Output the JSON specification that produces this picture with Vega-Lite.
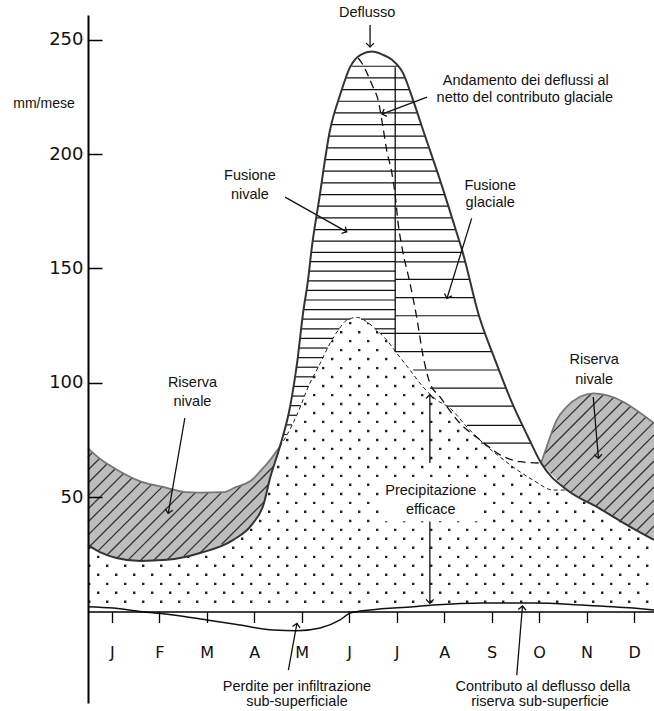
{
"$schema":"https://vega.github.io/schema/vega-lite/v6.json",
"width":566,"height":688,
"autosize":{"type":"none"},
"padding":{"left":88,"top":15,"right":0,"bottom":8},
"background":"white",
"config":{"view":{"stroke":null},"text":{"font":"Liberation Sans","fontSize":14.5,"color":"#111"}},
"datasets":{
"dots":[{"v":4.3,"odd":0},{"v":8.2,"odd":1},{"v":12.1,"odd":0},{"v":16.1,"odd":1},{"v":20.0,"odd":0},{"v":23.9,"odd":1},{"v":27.9,"odd":0},{"v":31.8,"odd":1},{"v":35.7,"odd":0},{"v":39.6,"odd":1},{"v":43.6,"odd":0},{"v":47.5,"odd":1},{"v":51.4,"odd":0},{"v":55.4,"odd":1},{"v":59.3,"odd":0},{"v":63.2,"odd":1},{"v":67.1,"odd":0},{"v":71.1,"odd":1},{"v":75.0,"odd":0},{"v":78.9,"odd":1},{"v":82.9,"odd":0},{"v":86.8,"odd":1},{"v":90.7,"odd":0},{"v":94.6,"odd":1},{"v":98.6,"odd":0},{"v":102.5,"odd":1},{"v":106.4,"odd":0},{"v":110.4,"odd":1},{"v":114.3,"odd":0},{"v":118.2,"odd":1},{"v":122.1,"odd":0},{"v":126.1,"odd":1}],
"pdot":[{"x":0,"v":29},{"x":0.25,"v":26},{"x":0.6,"v":23.4},{"x":1.1,"v":22.1},{"x":1.66,"v":22.6},{"x":2.36,"v":25.6},{"x":3.06,"v":31.3},{"x":3.45,"v":38},{"x":3.7,"v":47},{"x":3.83,"v":58},{"x":4.04,"v":72},{"x":4.32,"v":82.4},{"x":4.47,"v":89.4},{"x":4.61,"v":96.9},{"x":4.89,"v":108.5},{"x":5.1,"v":117.4},{"x":5.27,"v":123},{"x":5.45,"v":127.4},{"x":5.66,"v":128.6},{"x":5.87,"v":126.7},{"x":6.08,"v":123},{"x":6.29,"v":118.7},{"x":6.5,"v":113},{"x":6.78,"v":105.6},{"x":7.06,"v":98.1},{"x":7.34,"v":92.5},{"x":7.62,"v":89},{"x":7.98,"v":80.7},{"x":8.32,"v":73.7},{"x":8.68,"v":67.5},{"x":9.04,"v":61.9},{"x":9.37,"v":57.5},{"x":9.8,"v":53.1},{"x":10.09,"v":53.1},{"x":10.72,"v":45.7},{"x":11.42,"v":37},{"x":11.92,"v":31.3}],
"D":[{"x":0,"v":29},{"x":0.25,"v":26},{"x":0.6,"v":23.4},{"x":1.1,"v":22.1},{"x":1.66,"v":22.6},{"x":2.36,"v":25.6},{"x":3.06,"v":31.3},{"x":3.45,"v":38},{"x":3.7,"v":47},{"x":3.83,"v":58},{"x":4.04,"v":72},{"x":4.255,"v":89.4},{"x":4.403,"v":108.6},{"x":4.529,"v":130.5},{"x":4.634,"v":144.9},{"x":4.712,"v":158.9},{"x":4.866,"v":179.9},{"x":5.097,"v":210.5},{"x":5.308,"v":225.8},{"x":5.519,"v":238},{"x":5.75,"v":243.5},{"x":5.98,"v":244.8},{"x":6.2,"v":243.5},{"x":6.397,"v":241.3},{"x":6.635,"v":235.4},{"x":6.846,"v":223.6},{"x":7.056,"v":210.5},{"x":7.414,"v":188.6},{"x":7.766,"v":165.5},{"x":7.878,"v":158},{"x":8.236,"v":129.2},{"x":8.573,"v":110},{"x":8.931,"v":91.2},{"x":9.268,"v":76.3},{"x":9.542,"v":64.9},{"x":10.09,"v":53.1},{"x":10.72,"v":45.7},{"x":11.42,"v":37},{"x":11.92,"v":31.3}],
"Pmid":[{"x":4.04,"v":72},{"x":4.32,"v":82.4},{"x":4.47,"v":89.4},{"x":4.61,"v":96.9},{"x":4.89,"v":108.5},{"x":5.1,"v":117.4},{"x":5.27,"v":123},{"x":5.45,"v":127.4},{"x":5.66,"v":128.6},{"x":5.87,"v":126.7},{"x":6.08,"v":123},{"x":6.29,"v":118.7},{"x":6.5,"v":113},{"x":6.78,"v":105.6},{"x":7.06,"v":98.1},{"x":7.34,"v":92.5},{"x":7.62,"v":89},{"x":7.98,"v":80.7},{"x":8.32,"v":73.7},{"x":8.68,"v":67.5},{"x":9.04,"v":61.9},{"x":9.37,"v":57.5},{"x":9.8,"v":53.1},{"x":10.09,"v":53.1}],
"hatchL":[{"x":0,"lo":29,"hi":71.3},{"x":0.25,"lo":26,"hi":66.8},{"x":0.6,"lo":23.4,"hi":62.1},{"x":1.1,"lo":22.1,"hi":56.9},{"x":1.66,"lo":22.6,"hi":54.1},{"x":2.04,"lo":24.2,"hi":52.2},{"x":2.36,"lo":25.6,"hi":52.0},{"x":2.88,"lo":29.8,"hi":52.2},{"x":3.06,"lo":31.3,"hi":53.9},{"x":3.45,"lo":38,"hi":57.5},{"x":3.7,"lo":47,"hi":63},{"x":3.83,"lo":58,"hi":66.1},{"x":3.95,"lo":66,"hi":69.5},{"x":4.04,"lo":72,"hi":72}],
"hatchR":[{"x":9.54,"lo":64.9,"hi":64.9},{"x":9.66,"lo":62.3,"hi":72},{"x":9.87,"lo":57.8,"hi":83.7},{"x":10.08,"lo":53.3,"hi":89.5},{"x":10.36,"lo":49.9,"hi":93.9},{"x":10.64,"lo":46.6,"hi":95.4},{"x":10.92,"lo":43.2,"hi":94.6},{"x":11.27,"lo":38.9,"hi":91.7},{"x":11.63,"lo":34.6,"hi":86.8},{"x":11.92,"lo":31.3,"hi":82.4}],
"diag":[{"a":0,"p":67.5,"b":0.097,"q":69.6},{"a":0,"p":61.9,"b":0.244,"q":66.9},{"a":0,"p":56.2,"b":0.409,"q":64.7},{"a":0,"p":50.5,"b":0.575,"q":62.4},{"a":0,"p":44.8,"b":0.756,"q":60.5},{"a":0,"p":39.1,"b":0.937,"q":58.6},{"a":0,"p":33.4,"b":1.125,"q":56.8},{"a":0.038,"p":28.5,"b":1.346,"q":55.7},{"a":0.213,"p":26.5,"b":1.567,"q":54.6},{"a":0.406,"p":24.8,"b":1.787,"q":53.5},{"a":0.609,"p":23.3,"b":2.007,"q":52.4},{"a":0.853,"p":22.7,"b":2.267,"q":52.1},{"a":1.095,"p":22.1,"b":2.54,"q":52.1},{"a":1.382,"p":22.3,"b":2.82,"q":52.2},{"a":1.668,"p":22.6,"b":3.269,"q":55.8},{"a":2.016,"p":24.1,"b":3.911,"q":63.5},{"a":2.361,"p":25.6,"b":3.8,"q":55.5},{"a":2.812,"p":29.3,"b":3.711,"q":48.0},
{"a":9.764,"p":77.9,"b":10.599,"q":95.2},{"a":9.609,"p":68.9,"b":10.853,"q":94.8},{"a":9.613,"p":63.3,"b":11.062,"q":93.4},{"a":9.745,"p":60.4,"b":11.257,"q":91.8},{"a":9.88,"p":57.5,"b":11.424,"q":89.6},{"a":10.015,"p":54.6,"b":11.59,"q":87.3},{"a":10.171,"p":52.2,"b":11.75,"q":85.0},{"a":10.344,"p":50.1,"b":11.908,"q":82.6},{"a":10.519,"p":48.0,"b":11.92,"q":77.2},{"a":10.693,"p":46.0,"b":11.92,"q":71.5},{"a":10.866,"p":43.9,"b":11.92,"q":65.8},{"a":11.037,"p":41.7,"b":11.92,"q":60.1},{"a":11.209,"p":39.7,"b":11.92,"q":54.4},{"a":11.382,"p":37.6,"b":11.92,"q":48.7},{"a":11.556,"p":35.5,"b":11.92,"q":43.1},{"a":11.731,"p":33.4,"b":11.92,"q":37.4}],
"netto":[{"x":5.69,"v":242},{"x":5.77,"v":239.7},{"x":6.0,"v":229.4},{"x":6.11,"v":223.6},{"x":6.21,"v":212},{"x":6.29,"v":201.7},{"x":6.4,"v":191.7},{"x":6.47,"v":182},{"x":6.53,"v":170},{"x":6.61,"v":159.5},{"x":6.78,"v":143.6},{"x":6.92,"v":128.9},{"x":7.06,"v":111.4},{"x":7.2,"v":99.9},{"x":7.41,"v":93.9},{"x":7.83,"v":82.4},{"x":8.26,"v":75},{"x":8.68,"v":68.5},{"x":9.1,"v":65.5},{"x":9.54,"v":64.9}],
"sub":[{"x":0,"v":2.1},{"x":0.527,"v":1.5},{"x":1.096,"v":0},{"x":1.79,"v":-1.5},{"x":2.5,"v":-3.7},{"x":3.2,"v":-5.9},{"x":3.9,"v":-8.1},{"x":4.4,"v":-8.4},{"x":4.89,"v":-7.2},{"x":5.31,"v":-3.7},{"x":5.52,"v":-0.7},{"x":5.94,"v":0.7},{"x":6.85,"v":2.1},{"x":7.27,"v":2.8},{"x":8.32,"v":3.7},{"x":9.37,"v":3.7},{"x":10.43,"v":2.8},{"x":11.48,"v":1.5},{"x":11.92,"v":0.7}],
"hlines":[{"y":238.4,"a":5.55,"b":6.527},{"y":233.3,"a":5.438,"b":6.673},{"y":228.2,"a":5.35,"b":6.764},{"y":223.1,"a":5.271,"b":6.854},{"y":218.0,"a":5.2,"b":6.936},{"y":212.9,"a":5.13,"b":7.018},{"y":207.8,"a":5.077,"b":7.1},{"y":202.7,"a":5.038,"b":7.183},{"y":197.6,"a":5.0,"b":7.267},{"y":192.5,"a":4.961,"b":7.35},{"y":187.4,"a":4.923,"b":7.432},{"y":182.3,"a":4.884,"b":7.51},{"y":177.2,"a":4.846,"b":7.588},{"y":172.1,"a":4.809,"b":7.665},{"y":167.0,"a":4.771,"b":7.743},{"y":161.9,"a":4.734,"b":7.82},{"y":157.0,"a":4.701,"b":7.89},
{"y":153,"a":4.679,"b":6.47},{"y":148.8,"a":4.656,"b":6.47},{"y":144.6,"a":4.632,"b":6.47},{"y":140.4,"a":4.601,"b":6.47},{"y":136.2,"a":4.571,"b":6.47},{"y":132,"a":4.54,"b":6.47},{"y":127.8,"a":4.513,"b":5.52},{"y":127.8,"a":5.75,"b":6.47},{"y":123.6,"a":4.489,"b":5.295},{"y":123.6,"a":6.05,"b":6.47},{"y":119.4,"a":4.465,"b":5.161},{"y":115.2,"a":4.441,"b":5.048},{"y":111,"a":4.417,"b":4.949},{"y":106.8,"a":4.389,"b":4.849},{"y":102.6,"a":4.357,"b":4.748},{"y":98.4,"a":4.324,"b":4.646},{"y":94.2,"a":4.292,"b":4.56},{"y":90,"a":4.26,"b":4.481},{"y":85.8,"a":4.212,"b":4.393},{"y":81.6,"a":4.161,"b":4.298},{"y":77.4,"a":4.111,"b":4.185},
{"y":152.9,"a":6.47,"b":7.941},{"y":145.2,"a":6.47,"b":8.037},{"y":137.2,"a":6.47,"b":8.137},{"y":129.3,"a":6.47,"b":8.235},{"y":121.6,"a":6.16,"b":8.369},{"y":113.6,"a":6.47,"b":8.51},{"y":105.6,"a":6.85,"b":8.657},{"y":97.7,"a":7.2,"b":8.809},{"y":89.8,"a":7.55,"b":8.967},{"y":81.4,"a":7.98,"b":9.155},{"y":73.6,"a":8.28,"b":9.333}],
"vline":[{"x":6.47,"lo":113.5,"hi":238}],
"box":[{"a":6.17,"b":8.33,"lo":39.5,"hi":58.5}],
"arrows":[{"x1":5.94,"y1":256.4,"x2":5.94,"y2":246.8,"ang":180},{"x1":7.14,"y1":224.9,"x2":6.19,"y2":217.5,"ang":249.3},{"x1":4.15,"y1":181.2,"x2":5.45,"y2":166.0,"ang":119.4},{"x1":8.08,"y1":171.9,"x2":7.56,"y2":136.9,"ang":197.4},{"x1":2.04,"y1":84.6,"x2":1.69,"y2":42.9,"ang":189.9},{"x1":10.64,"y1":93.8,"x2":10.75,"y2":67.0,"ang":175.3},{"x1":4.22,"y1":-25.6,"x2":4.40,"y2":-5.2,"ang":10.2},{"x1":9.03,"y1":-27.8,"x2":9.15,"y2":2.4,"ang":5.0},{"x1":7.2,"y1":64.9,"x2":7.2,"y2":94.8,"ang":0},{"x1":7.2,"y1":39.3,"x2":7.2,"y2":3.6,"ang":180}],
"labels":[{"x":5.88,"y":261.5,"t":"Deflusso"},{"x":9.22,"y":231.9,"t":"Andamento dei deflussi al"},{"x":9.2,"y":224.5,"t":"netto del contributo glaciale"},{"x":3.41,"y":190.4,"t":"Fusione"},{"x":3.41,"y":182.1,"t":"nivale"},{"x":8.47,"y":186.0,"t":"Fusione"},{"x":8.47,"y":178.6,"t":"glaciale"},{"x":2.2,"y":99.8,"t":"Riserva"},{"x":2.2,"y":91.7,"t":"nivale"},{"x":10.66,"y":109.9,"t":"Riserva"},{"x":10.66,"y":101.2,"t":"nivale"},{"x":7.22,"y":52.7,"t":"Precipitazione"},{"x":7.22,"y":44.4,"t":"efficace"},{"x":4.4,"y":-33.0,"t":"Perdite per infiltrazione"},{"x":4.4,"y":-39.6,"t":"sub-superficiale"},{"x":9.58,"y":-33.0,"t":"Contributo al deflusso della"},{"x":9.52,"y":-39.6,"t":"riserva sub-superficie"}]
},
"layer":[
{"data":{"name":"dots"},"transform":[{"filter":"datum.odd==0"}],
 "mark":{"type":"rule","strokeDash":[2.4,15.6],"strokeWidth":2.4,"color":"#222","strokeCap":"butt"},
 "encoding":{"x":{"datum":0,"type":"quantitative","scale":{"domain":[0,11.92],"nice":false,"zero":false}},"x2":{"datum":11.92},
  "y":{"field":"v","type":"quantitative","scale":{"domain":[-40,260.8],"nice":false,"zero":false}}}},
{"data":{"name":"dots"},"transform":[{"filter":"datum.odd==1"}],
 "mark":{"type":"rule","strokeDash":[2.4,15.6],"strokeDashOffset":9,"strokeWidth":2.4,"color":"#222","strokeCap":"butt"},
 "encoding":{"x":{"datum":0,"type":"quantitative","scale":{"domain":[0,11.92],"nice":false,"zero":false}},"x2":{"datum":11.92},
  "y":{"field":"v","type":"quantitative","scale":{"domain":[-40,260.8],"nice":false,"zero":false}}}},
{"data":{"name":"pdot"},"mark":{"type":"area","color":"white","interpolate":"monotone","orient":"vertical"},
 "encoding":{"x":{"field":"x","type":"quantitative","scale":{"domain":[0,11.92],"nice":false,"zero":false}},
  "y":{"field":"v","type":"quantitative","scale":{"domain":[-40,260.8],"nice":false,"zero":false}},"y2":{"datum":262}}},
{"data":{"name":"hatchL"},"mark":{"type":"area","color":"#bdbdbd","interpolate":"monotone","orient":"vertical"},
 "encoding":{"x":{"field":"x","type":"quantitative","scale":{"domain":[0,11.92],"nice":false,"zero":false}},
  "y":{"field":"lo","type":"quantitative","scale":{"domain":[-40,260.8],"nice":false,"zero":false}},"y2":{"field":"hi"}}},
{"data":{"name":"hatchR"},"mark":{"type":"area","color":"#bdbdbd","interpolate":"monotone","orient":"vertical"},
 "encoding":{"x":{"field":"x","type":"quantitative","scale":{"domain":[0,11.92],"nice":false,"zero":false}},
  "y":{"field":"lo","type":"quantitative","scale":{"domain":[-40,260.8],"nice":false,"zero":false}},"y2":{"field":"hi"}}},
{"data":{"name":"diag"},"mark":{"type":"rule","color":"#333","strokeWidth":1.3},
 "encoding":{"x":{"field":"a","type":"quantitative","scale":{"domain":[0,11.92],"nice":false,"zero":false}},"x2":{"field":"b"},
  "y":{"field":"p","type":"quantitative","scale":{"domain":[-40,260.8],"nice":false,"zero":false}},"y2":{"field":"q"}}},
{"data":{"name":"hlines"},"mark":{"type":"rule","color":"#111","strokeWidth":1.2},
 "encoding":{"x":{"field":"a","type":"quantitative","scale":{"domain":[0,11.92],"nice":false,"zero":false}},"x2":{"field":"b"},
  "y":{"field":"y","type":"quantitative","scale":{"domain":[-40,260.8],"nice":false,"zero":false}}}},
{"data":{"name":"vline"},"mark":{"type":"rule","color":"#111","strokeWidth":1.3},
 "encoding":{"x":{"field":"x","type":"quantitative","scale":{"domain":[0,11.92],"nice":false,"zero":false}},
  "y":{"field":"lo","type":"quantitative","scale":{"domain":[-40,260.8],"nice":false,"zero":false}},"y2":{"field":"hi"}}},
{"data":{"name":"hatchL"},"mark":{"type":"line","color":"#777","strokeWidth":1.8,"interpolate":"monotone"},
 "encoding":{"x":{"field":"x","type":"quantitative","scale":{"domain":[0,11.92],"nice":false,"zero":false}},
  "y":{"field":"hi","type":"quantitative","scale":{"domain":[-40,260.8],"nice":false,"zero":false}}}},
{"data":{"name":"hatchR"},"mark":{"type":"line","color":"#777","strokeWidth":1.8,"interpolate":"monotone"},
 "encoding":{"x":{"field":"x","type":"quantitative","scale":{"domain":[0,11.92],"nice":false,"zero":false}},
  "y":{"field":"hi","type":"quantitative","scale":{"domain":[-40,260.8],"nice":false,"zero":false}}}},
{"data":{"name":"Pmid"},"mark":{"type":"line","color":"#222","strokeWidth":1,"strokeDash":[4,3],"interpolate":"monotone"},
 "encoding":{"x":{"field":"x","type":"quantitative","scale":{"domain":[0,11.92],"nice":false,"zero":false}},
  "y":{"field":"v","type":"quantitative","scale":{"domain":[-40,260.8],"nice":false,"zero":false}}}},
{"data":{"name":"netto"},"mark":{"type":"line","color":"#111","strokeWidth":1.3,"strokeDash":[8,5],"interpolate":"monotone"},
 "encoding":{"x":{"field":"x","type":"quantitative","scale":{"domain":[0,11.92],"nice":false,"zero":false}},
  "y":{"field":"v","type":"quantitative","scale":{"domain":[-40,260.8],"nice":false,"zero":false}}}},
{"data":{"name":"D"},"mark":{"type":"line","color":"#333","strokeWidth":2,"interpolate":"monotone"},
 "encoding":{"x":{"field":"x","type":"quantitative","scale":{"domain":[0,11.92],"nice":false,"zero":false},
   "axis":{"values":[0.5,1.5,2.5,3.5,4.5,5.5,6.5,7.5,8.5,9.5,10.5,11.5],"labelExpr":"['J','F','M','A','M','J','J','A','S','O','N','D'][floor(datum.value)]","orient":"bottom","offset":-91.5,"domainColor":"#000","domainWidth":1.6,"tickColor":"#000","tickWidth":1.3,"tickSize":11,"labelFont":"DejaVu Sans","labelFontSize":16,"labelColor":"#111","labelPadding":30,"labelBaseline":"middle","grid":false,"title":null,"zindex":1,"labelFlush":false}},
  "y":{"field":"v","type":"quantitative","scale":{"domain":[-40,260.8],"nice":false,"zero":false},
   "axis":{"values":[50,100,150,200,250],"orient":"left","domainColor":"#000","domainWidth":2,"tickColor":"#000","tickWidth":1.5,"tickSize":-14,"labelPadding":19,"labelFont":"DejaVu Sans","labelFontSize":18,"labelColor":"#111","grid":false,"zindex":1,"title":"mm/mese","titleAngle":0,"titleX":-44.5,"titleY":88,"titleAlign":"center","titleBaseline":"middle","titleFont":"Liberation Sans","titleFontSize":14,"titleFontWeight":"normal","titleColor":"#111"}}}},
{"data":{"name":"sub"},"mark":{"type":"line","color":"#111","strokeWidth":1.5,"interpolate":"monotone"},
 "encoding":{"x":{"field":"x","type":"quantitative","scale":{"domain":[0,11.92],"nice":false,"zero":false}},
  "y":{"field":"v","type":"quantitative","scale":{"domain":[-40,260.8],"nice":false,"zero":false}}}},
{"data":{"name":"box"},"mark":{"type":"rect","color":"white"},
 "encoding":{"x":{"field":"a","type":"quantitative","scale":{"domain":[0,11.92],"nice":false,"zero":false}},"x2":{"field":"b"},
  "y":{"field":"lo","type":"quantitative","scale":{"domain":[-40,260.8],"nice":false,"zero":false}},"y2":{"field":"hi"}}},
{"data":{"name":"arrows"},"mark":{"type":"rule","color":"#111","strokeWidth":1.3},
 "encoding":{"x":{"field":"x1","type":"quantitative","scale":{"domain":[0,11.92],"nice":false,"zero":false}},"x2":{"field":"x2"},
  "y":{"field":"y1","type":"quantitative","scale":{"domain":[-40,260.8],"nice":false,"zero":false}},"y2":{"field":"y2"}}},
{"data":{"name":"arrows"},"mark":{"type":"point","shape":"M-1,1L0,0L1,1","filled":false,"color":"#111","strokeWidth":1.3,"size":60,"opacity":1},
 "encoding":{"x":{"field":"x2","type":"quantitative","scale":{"domain":[0,11.92],"nice":false,"zero":false}},
  "y":{"field":"y2","type":"quantitative","scale":{"domain":[-40,260.8],"nice":false,"zero":false}},
  "angle":{"field":"ang","type":"quantitative","scale":null}}},
{"data":{"name":"labels"},"mark":{"type":"text","align":"center","baseline":"middle"},
 "encoding":{"x":{"field":"x","type":"quantitative","scale":{"domain":[0,11.92],"nice":false,"zero":false}},
  "y":{"field":"y","type":"quantitative","scale":{"domain":[-40,260.8],"nice":false,"zero":false}},
  "text":{"field":"t"}}}
]
}
